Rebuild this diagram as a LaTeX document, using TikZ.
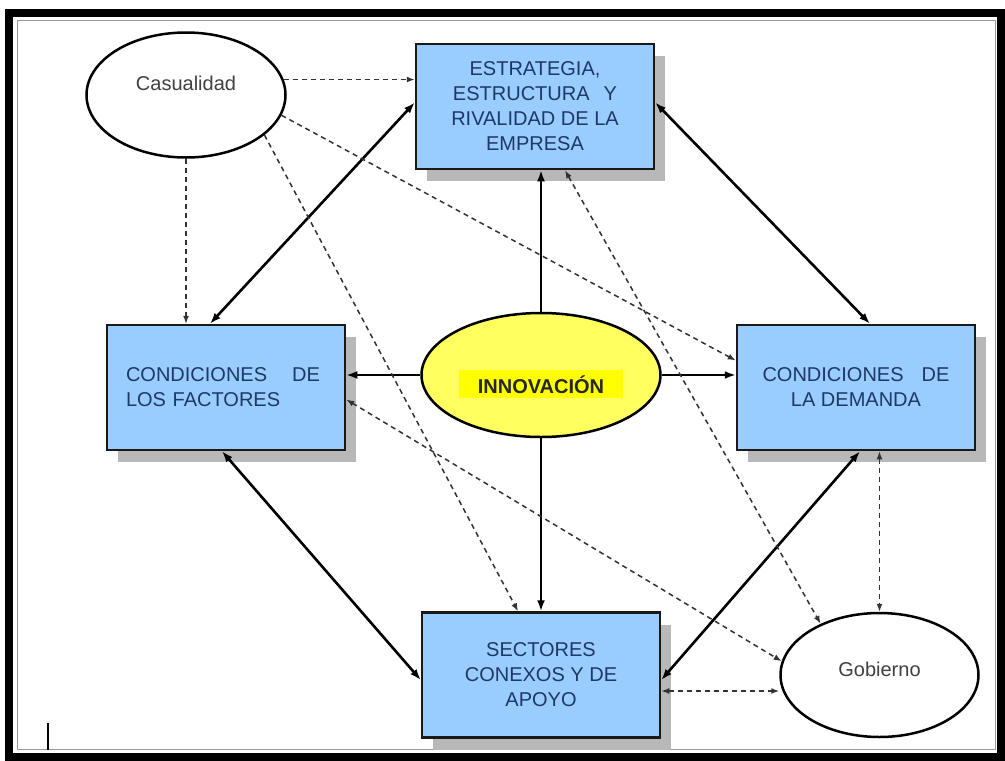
\documentclass[tikz,border=0pt]{standalone}
\usepackage{fontspec}
\setmainfont{Liberation Sans}
\usepackage{tikz}
\usetikzlibrary{positioning}
\usetikzlibrary{shapes.geometric}
\usetikzlibrary{arrows.meta}
\usetikzlibrary{shadows}
\definecolor{cajaazul}{RGB}{153,204,255}
\definecolor{textoazul}{RGB}{31,56,100}
\definecolor{amarillo}{RGB}{255,255,95}
\definecolor{resalte}{RGB}{255,255,0}
\definecolor{trazo}{RGB}{50,50,50}
\setlength{\fboxsep}{5pt}
\tikzstyle{caja} = [draw=black!90, line width=2.5pt, fill=cajaazul, text=textoazul, minimum width=238pt, minimum height=125pt, align=center, drop shadow={shadow xshift=11pt, shadow yshift=-12pt, fill=black!28, opacity=1}]
\tikzstyle{ovalo} = [draw, ellipse, line width=2.5pt, fill=white, text=black!75, minimum width=199pt, minimum height=125pt, inner sep=0pt]
\tikzstyle{fuerte} = [line width=2.6pt, >={Latex[length=11pt,width=8pt]}]
\tikzstyle{debil} = [line width=1.5pt, trazo, dash pattern=on 5pt off 4pt, >={Latex[length=8pt,width=6pt]}]

\begin{document}
\begin{tikzpicture}[x=1pt, y=-1pt, font=\fontsize{20}{25}\selectfont]
  \useasboundingbox (0,0) rectangle (1005,761);
  \draw[line width=8pt] (9,12.5) rectangle (1001,757);
  \draw[line width=1pt, black!40] (17,20) rectangle (995,749);

  \node[ovalo, minimum width=239pt, minimum height=124pt, fill=amarillo, text=black!85, text height=40pt, text depth=4pt] (inn) at (541,375) {\colorbox{resalte}{\hspace{14pt}\textbf{INNOVACIÓN}\hspace{14pt}}};
  \node[caja] (est) at (535,106.5) {ESTRATEGIA,\\ESTRUCTURA\hspace{14pt}Y\\RIVALIDAD DE LA\\EMPRESA};
  \node[caja, text width=200pt, align=left, inner xsep=19pt] (fac) at (226,387.5) {CONDICIONES\hspace{25pt}DE\\LOS FACTORES};
  \node[caja] (dem) at (856,387.5) {CONDICIONES\hspace{18pt}DE\\LA DEMANDA};
  \node[caja, below=173pt of inn] (sec) {SECTORES\\CONEXOS Y DE\\APOYO};
  \node[ovalo, text height=15pt, text depth=25pt] (cas) at (186,95) {Casualidad};
  \node[ovalo, minimum width=198pt, minimum height=124pt, text height=15pt, text depth=13pt, right=118pt of sec] (gob) {Gobierno};

  % flechas principales
  \draw[fuerte, <->] ([xshift=-16pt]fac.north) -- ([yshift=4pt]est.west);
  \draw[fuerte, <->] ([yshift=4pt]est.east) -- ([xshift=14pt]dem.north);
  \draw[fuerte, <->] ([xshift=-4pt]fac.south) -- ([yshift=-5pt]sec.west);
  \draw[fuerte, <->] ([xshift=4pt]dem.south) -- ([yshift=-5pt]sec.east);
  \draw[fuerte, ->] (inn.north) -- (inn.north |- est.south);
  \draw[fuerte, ->] (inn.south) -- (sec.north);
  \draw[fuerte, ->] (inn.west) -- (inn.west -| fac.east);
  \draw[fuerte, ->] (inn.east) -- (inn.east -| dem.west);

  % influencias
  \draw[debil, ->] (cas.9) -- (cas.9 -| est.west);
  \draw[debil, ->] (cas.south) -- (cas.south |- fac.north);
  \draw[debil, ->] (cas.-12) -- ([yshift=27pt]dem.west);
  \draw[debil, ->] (cas.-27) -- ([xshift=-23pt]sec.north);
  \draw[debil, <->] ([xshift=30pt]est.south) -- (gob.139);
  \draw[debil, <->] ([yshift=-12pt]fac.east) -- (gob.172);
  \draw[debil, <->] ([yshift=-16pt]sec.east) -- ([yshift=-16pt]sec.east -| gob.west);
  \draw[debil, <->] (gob.north |- dem.south) -- (gob.north);

  \draw[line width=2pt] (48,723) -- (48,750);
\end{tikzpicture}
\end{document}
